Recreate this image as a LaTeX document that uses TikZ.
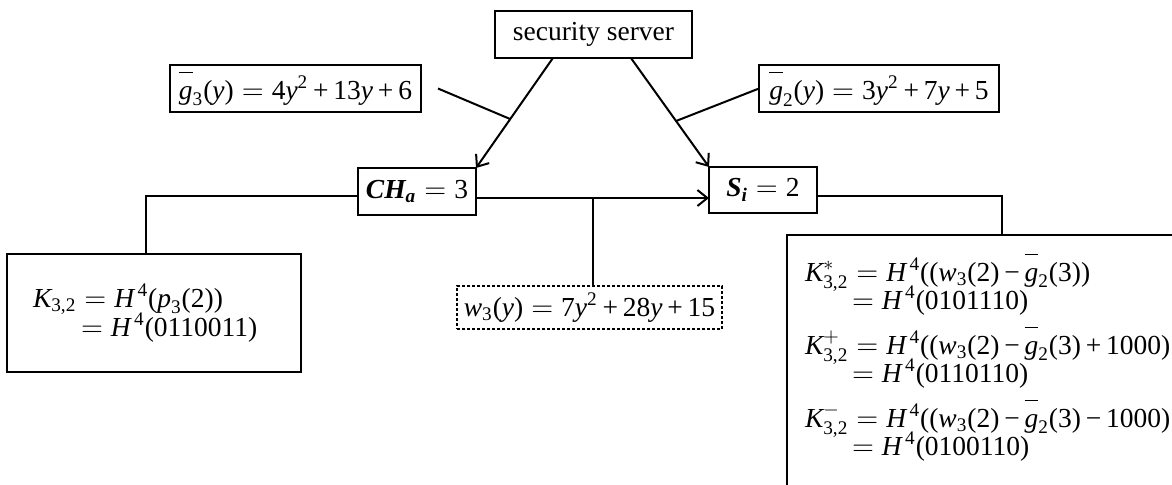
\documentclass[tikz,border=0pt]{standalone}
\usepackage{amsmath}
\usepackage{fontspec}
\setmainfont{Liberation Serif}
\usetikzlibrary{arrows.meta,calc}
\newcommand\tv[1]{\text{\itshape #1}}
\newcommand\tn[1]{\text{#1}}
\newcommand\tbi[1]{\text{\bfseries\itshape #1}}
\newcommand\gb{\overline{\rule{0pt}{0.82em}\tv{g}}}
\newcommand\Hf{\tv{H}^{\,\tn{4}}}
\newcommand\pl{\mathbin{\tn{+}}}
\newcommand\mns{\mathbin{\tn{\symbol{"2212}}}}
\begin{document}
\begin{tikzpicture}[x=0.5pt,y=-0.5pt,
  every node/.style={font=\fontsize{13.75}{16}\selectfont, execute at begin node={\medmuskip=3mu\relax}},
  bx/.style={draw, line width=1pt, inner sep=0pt, outer sep=0pt},
  ln/.style={line width=1pt},
  arr/.style={line width=1pt, -{Straight Barb[length=5pt,width=8pt]}},
  eq/.style={anchor=base west, inner sep=0pt, outer sep=0pt},
  req/.style={eq, execute at begin node={\medmuskip=3mu\relax}}]
\useasboundingbox (0,0) rectangle (1172,484);
\fill[white] (0,0) rectangle (1172,484);
\clip (0,0) rectangle (1172,484);
% boxes
\node[bx, minimum width=98.5pt, minimum height=23.5pt] (ss) at (593.5,34.5) {security server};
\node[bx, minimum width=125.5pt, minimum height=23.5pt] (g3) at (295.5,88.5) {$\gb_{\tn{3}}\tn{(}\tv{y}\tn{)} = \tn{4}\tv{y}^{\tn{2}} \pl \tn{13}\tv{y} \pl \tn{6}$};
\node[bx, minimum width=120pt, minimum height=23.5pt] (g2) at (879,88.5) {$\gb_{\tn{2}}\tn{(}\tv{y}\tn{)} = \tn{3}\tv{y}^{\tn{2}} \pl \tn{7}\tv{y} \pl \tn{5}$};
\node[bx, minimum width=59pt, minimum height=23.5pt] (CH) at (417,191.5) {$\tbi{CH}_{\tbi{a}} = \tn{3}$};
\node[bx, minimum width=54pt, minimum height=23pt] (S) at (763,190) {$\tbi{S}_{\tbi{i}} = \tn{2}$};
\node[bx, dash pattern=on 1.5pt off 1pt, line width=0.8pt, minimum width=132.5pt, minimum height=21.5pt] (w3) at (589.5,307.5) {$\tv{w}_{\tn{3}}\tn{(}\tv{y}\tn{)} = \tn{7}\tv{y}^{\tn{2}} \pl \tn{28}\tv{y} \pl \tn{15}$};
\node[bx, minimum width=147pt, minimum height=59pt] (lbox) at (154,313) {};
\node[bx, minimum width=199pt, minimum height=130pt] (rbox) at (986,365) {};
% equations
\node[eq] (k1) at (33,307) {$\tv{K}_{\tn{3,2}} = \Hf\tn{(}\tv{p}_{\tn{3}}\tn{(2))}$};
\node[eq] (k2) at (81,336) {$= \Hf\tn{(0110011)}$};
\node[req] (r1) at (805,281) {$\tv{K}^{*}_{\tn{3,2}} = \Hf\tn{((}\tv{w}_{\tn{3}}\tn{(2)} \mns \gb_{\tn{2}}\tn{(3))}$};
\node[req] (r2) at (852,309) {$= \Hf\tn{(0101110)}$};
\node[req] (r3) at (805,354) {$\tv{K}^{+}_{\tn{3,2}} = \Hf\tn{((}\tv{w}_{\tn{3}}\tn{(2)} \mns \gb_{\tn{2}}\tn{(3)} \pl \tn{1000)}$};
\node[req] (r4) at (852,382) {$= \Hf\tn{(0110110)}$};
\node[req] (r5) at (805,427) {$\tv{K}^{-}_{\tn{3,2}} = \Hf\tn{((}\tv{w}_{\tn{3}}\tn{(2)} \mns \gb_{\tn{2}}\tn{(3)} \mns \tn{1000)}$};
\node[req] (r6) at (852,455) {$= \Hf\tn{(0100110)}$};
% connectors
\coordinate (a1s) at ($(ss.south west)!0.294!(ss.south east)$);
\coordinate (a2s) at ($(ss.south west)!0.690!(ss.south east)$);
\draw[arr] (a1s) -- (CH.north east);
\draw[arr] (a2s) -- (S.north west);
\coordinate (m1) at ($(a1s)!0.555!(CH.north east)$);
\coordinate (m2) at ($(a2s)!0.578!(S.north west)$);
\draw[ln] ([xshift=8.5pt]g3.east) -- (m1);
\draw[ln] (g2.west) -- (m2);
\coordinate (h1) at ([yshift=-3.25pt]CH.east);
\draw[arr] (h1) -- (h1 -| S.west);
\coordinate (j) at ($(h1)!0.5!(h1 -| S.west)$);
\draw[ln] (j) -- (j |- w3.north);
\draw[ln] ([yshift=-2.25pt]CH.west) -| ($(lbox.north west)!0.473!(lbox.north east)$);
\draw[ln] ([yshift=-3pt]S.east) -| ($(rbox.north west)+(215,0)$);
\end{tikzpicture}
\end{document}
